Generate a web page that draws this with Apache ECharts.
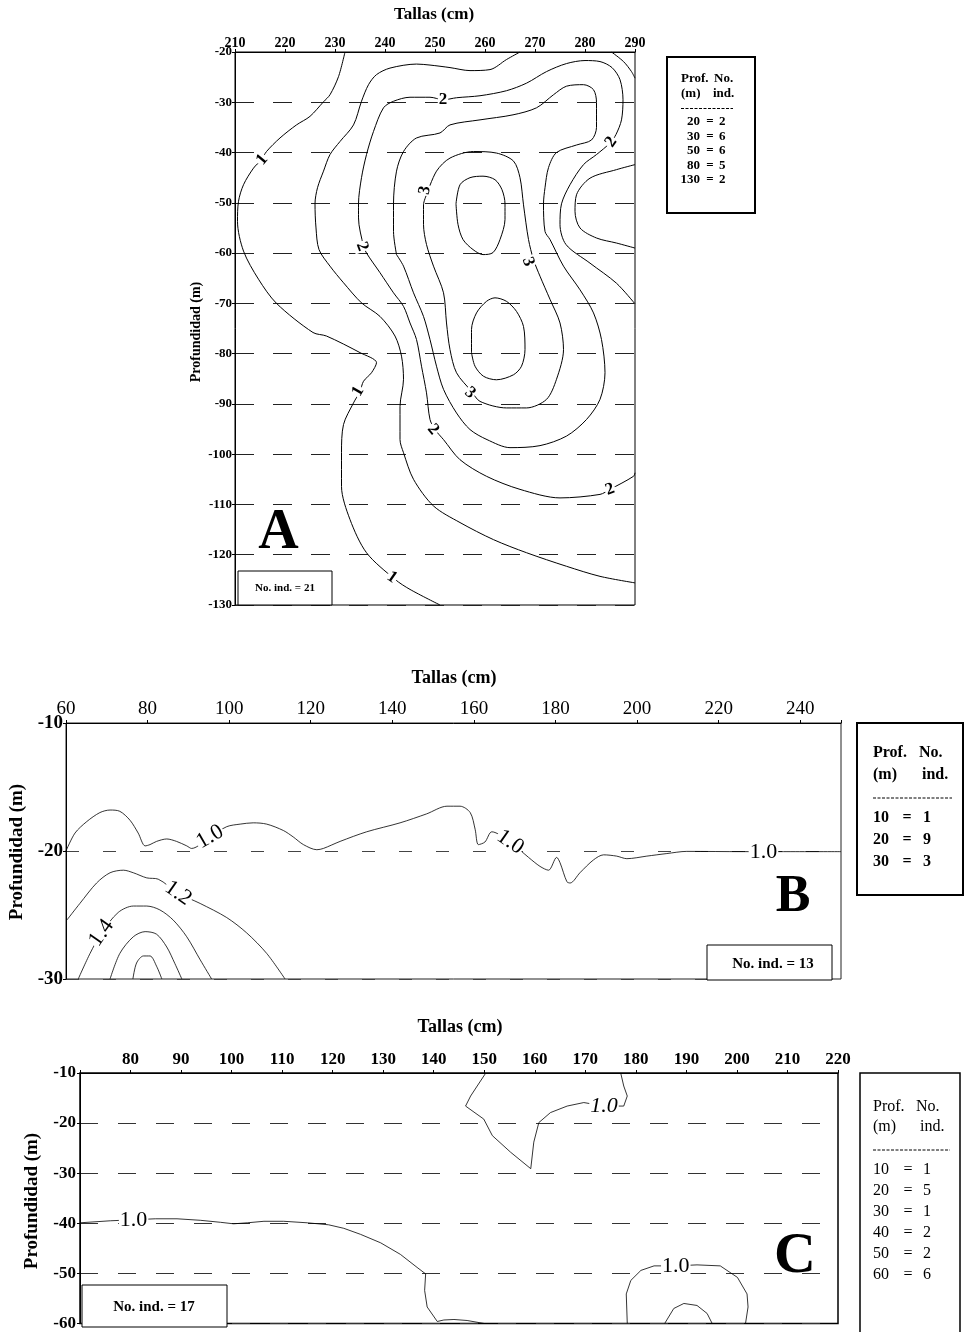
<!DOCTYPE html>
<html><head><meta charset="utf-8">
<script src="https://cdn.jsdelivr.net/npm/echarts@6/dist/echarts.min.js"></script>
<style>html,body{margin:0;padding:0;background:#fff}#c{width:964px;height:1332px}</style>
</head><body><div id="c"></div>
<script>
const FONT = '"Liberation Serif","Times New Roman",serif';

// ---------- Panel A ----------
const A_xTicks = [210,220,230,240,250,260,270,280,290];
const A_yTicks = [-130,-120,-110,-100,-90,-80,-70,-60,-50,-40,-30,-20];
const A_c1 = [[232,-20],[230.7,-24.9],[229,-28.5],[227.7,-29.9],[225,-32.8],[222.3,-34.5],[219,-37.1],[216.3,-39.8],[215.3,-41.4],[213.7,-43.1],[211.7,-46.4],[210.7,-49.7],[210.5,-53.7],[211.7,-59.6],[214.7,-65.2],[218.3,-70],[225.6,-75.8],[228.3,-76.5],[235,-79.8],[238.3,-81.8],[237.3,-83.8],[235.7,-85.5],[235,-87.5],[233.7,-89.8],[231.7,-94.1],[231.3,-99.7],[231.3,-106.4],[233,-113],[236.3,-119.6],[242,-124.9],[245,-126.9],[251,-130]];
const A_c15corner = [[285.3,-20],[287.7,-21.9],[289.3,-23.9],[290,-25.2]];
const A_c15 = [[267,-20],[264.3,-21.5],[261,-23.5],[257,-23.7],[253,-23.1],[249,-22.6],[246.3,-22.4],[241,-23.2],[238.3,-24.5],[236.7,-26.5],[235.3,-29.8],[233.7,-34.5],[231,-37.8],[229,-40.4],[227.7,-43.7],[226.5,-47],[226,-50.2],[226.2,-55],[226.8,-59.3],[229,-62.6],[231.7,-65.9],[235.3,-69.9],[239,-72.6],[242,-76.5],[243.3,-80.5],[243.7,-85.1],[243,-90.5],[243,-97.1],[243.7,-99.7],[245.7,-105],[249.7,-110.3],[255,-113.6],[261.7,-117],[268.3,-119.6],[276.3,-122.3],[283,-124.3],[290,-125.6]];
const A_c15valley = [[290,-42.4],[286.3,-43.4],[281,-45.1],[278.3,-48.4],[278,-51.7],[279,-55],[282.3,-57],[286.3,-58],[290,-59]];
const A_c2 = [[290,-70.1],[286.3,-66],[281,-62],[276.2,-58.3],[275,-54.3],[275.3,-50.2],[277,-46.4],[279.7,-42.4],[282.3,-40.4],[285,-38.1],[286.2,-36.4],[287.3,-33.5],[287.6,-29.5],[287,-25.5],[285.4,-23.1],[283,-21.9],[280,-21.7],[276.3,-22.3],[272.3,-23.9],[268.3,-26.2],[264.3,-27.7],[259,-28.7],[254.3,-29.1],[251.7,-29.5],[249,-29],[245,-29],[241.7,-29.8],[239.7,-31.1],[237.7,-35.8],[236.3,-40.4],[235.3,-45],[234.7,-50.2],[234.7,-53],[235.7,-58.6],[236.3,-60],[239,-63.9],[241.7,-67.9],[243.7,-70.6],[245,-73.9],[246.3,-77.2],[247.3,-82.5],[248.3,-87.8],[249,-93.1],[250,-95.1],[251.7,-97.1],[255,-101.1],[260.3,-104.4],[267,-107],[275,-108.7],[283,-108],[285,-107],[289.7,-104.4],[290,-103.7]];
const A_c25 = [[242.3,-60.3],[241.7,-55.7],[241.7,-50.2],[242.3,-43.7],[243.7,-39.8],[246.3,-37.1],[251,-36.1],[253,-34.5],[259,-33.5],[265.6,-32.5],[270.3,-31.1],[273.7,-28.5],[276.3,-26.8],[279.7,-26.5],[281.7,-27.5],[282.3,-30],[282.3,-35],[281.3,-37.5],[278.3,-38.5],[274.3,-40],[272.7,-43],[272,-47],[271.7,-50.2],[272,-55.7],[273,-57.3],[275.7,-62.6],[279,-67.3],[281.7,-71.9],[283.3,-77.2],[284,-83.8],[283,-89.1],[280.3,-93.1],[276.3,-96.4],[271,-98.3],[265,-98.7],[260.4,-97.1],[257,-95.1],[254.3,-91.8],[251.7,-87.1],[250.3,-82.5],[249,-77.2],[247.7,-72.6],[245.7,-67.9],[243.7,-62.6],[242.3,-60.3]];
const A_c3 = [[248.3,-48.4],[247.7,-50.4],[247.7,-54.3],[248.3,-58.3],[249.7,-62.6],[251.7,-67.9],[252.3,-73.9],[253,-79.2],[254.3,-83.8],[257.3,-87.5],[259,-89.5],[264.3,-90.8],[268.3,-90.8],[272.3,-89.1],[274.3,-85.1],[275.7,-79.2],[275,-73.9],[273,-69.2],[271,-64.6],[269.7,-61.3],[268.7,-57.3],[267.7,-50.4],[267,-45],[265.7,-41.7],[262.3,-40.1],[257.7,-39.8],[253,-41.1],[250.3,-43.7],[248.3,-48.4]];
const A_c35top = [[254.2,-50.2],[255,-46.4],[257,-45],[259.6,-44.7],[262,-45.4],[263.4,-47.4],[264,-50.2],[264,-53.3],[263,-57.3],[261.6,-59.9],[259.6,-60.3],[257.6,-59.3],[255.6,-57.3],[254.6,-54.3],[254.2,-50.2]];
const A_c35bot = [[257.3,-79.8],[257.3,-75.2],[258.3,-71.9],[260.3,-69.6],[262,-68.9],[264.3,-69.6],[266.3,-71.6],[267.7,-74.6],[268,-79.2],[267.3,-82.5],[265.7,-84.2],[262.3,-85.2],[259.7,-84.5],[258,-82.5],[257.3,-79.8]];
const A_labels = [[215.4,-41.4,'1'],[234.6,-87.5,'1'],[241.4,-124.5,'1'],[251.6,-29.5,'2'],[235.4,-58.7,'2'],[249.6,-95.1,'2'],[285,-107,'2'],[285.2,-37.9,'2'],[248,-47.5,'3'],[268.6,-61.7,'3'],[257,-87.8,'3']];
const A_depth = ['20','30','50','80','130'];
const A_count = ['2','6','6','5','2'];

// ---------- Panel B ----------
const B_xTicks = [60,80,100,120,140,160,180,200,220,240];
const B_yTicks = [-30,-20,-10];
const B_c10 = [[60,-20],[62.2,-18.6],[65.1,-17.7],[68.3,-17.0],[70.8,-16.8],[73.2,-16.9],[75.7,-17.6],[77.7,-18.6],[79.4,-19.6],[80.6,-19.5],[82.2,-19.25],[84.7,-19.06],[87.1,-19.25],[89.6,-19.6],[90.8,-19.8],[95.3,-18.9],[99.4,-18.1],[102.7,-17.9],[105.9,-17.8],[109.2,-17.9],[113.3,-18.4],[115.7,-18.9],[118.2,-19.5],[121.5,-19.9],[123.1,-19.8],[127.2,-19.25],[133.7,-18.5],[141.9,-17.8],[148.4,-17.1],[153.4,-16.5],[156.6,-16.5],[159.1,-17.0],[160.3,-18.3],[161.1,-19.5],[162.7,-19.3],[164.4,-18.5],[168.9,-19.3],[173.4,-20.5],[176.2,-21.2],[178.3,-21.5],[180.3,-20.5],[181.1,-20.9],[182.8,-22.4],[183.6,-22.5],[186,-21.7],[189.3,-20.7],[191.8,-20.3],[195,-20.4],[197.5,-20.6],[202.4,-20.4],[207.3,-20.2],[212.2,-20.03],[226.1,-20.05],[231,-20.05],[235.9,-20.05],[250,-20.05]];
const B_c12 = [[60.2,-25.4],[63.4,-24.1],[67.5,-22.5],[70.8,-21.7],[74.1,-21.5],[76.5,-21.7],[79.8,-22.1],[82.6,-22.2],[87.5,-23.3],[92.9,-24.1],[99.4,-25.2],[104.3,-26.4],[109.2,-28],[113.7,-30]];
const B_c14 = [[63,-30],[65.9,-28],[68.7,-26.4],[72.8,-24.8],[76.5,-24.3],[79.8,-24.3],[83,-24.6],[86.3,-25.4],[89.6,-26.7],[92.9,-28.5],[95.7,-30]];
const B_c16 = [[70.8,-30],[73.2,-28],[76.5,-26.7],[79.4,-26.3],[82.2,-26.5],[84.7,-27.5],[86.7,-28.8],[88.4,-30]];
const B_c18 = [[76.4,-30],[77.3,-28.75],[79,-28.2],[80.6,-28.2],[82.2,-29],[83.5,-30]];
const B_labels = [[95.3,-18.9,'1.0'],[87.5,-23.3,'1.2'],[68.7,-26.4,'1.4'],[168.9,-19.3,'1.0'],[231,-20.1,'1.0']];
const B_depth = ['10','20','30'];
const B_count = ['1','9','3'];

// ---------- Panel C ----------
const C_xTicks = [80,90,100,110,120,130,140,150,160,170,180,190,200,210,220];
const C_yTicks = [-60,-50,-40,-30,-20,-10];
const C_c10left = [[70,-39.9],[76,-39.5],[80.6,-39.3],[84.9,-39.1],[89.2,-39.1],[93.8,-39.4],[97.8,-39.8],[100.4,-40.1],[103.1,-39.9],[106.4,-39.6],[110.3,-39.6],[115,-39.9],[119.2,-40.3],[122.2,-41],[125.5,-42.2],[129.5,-43.9],[133.4,-46.2],[136.7,-48.8],[138.4,-50.1],[138.2,-53.4],[138.7,-56.7],[140.7,-59.6],[142,-59.3],[144,-59.2],[146.6,-59.4],[150,-60]];
const C_c10top = [[150.3,-10],[148.6,-12.6],[147.3,-14.6],[146.3,-16.6],[149.9,-19.2],[151.6,-22.5],[155.2,-25.8],[159.2,-29.1],[159.8,-23.8],[160.8,-19.9],[163.1,-17.9],[166.4,-16.6],[169.7,-15.9],[173.7,-16.6],[177.6,-16.6],[178.3,-14.6],[177.6,-12.6],[177,-10]];
const C_c10right = [[178.3,-60],[178.1,-54.1],[179,-51.4],[181,-49.4],[183.6,-48.5],[187.9,-48.5],[192.1,-48.3],[196.7,-48.5],[200.1,-50.8],[202,-54.1],[202.2,-56.7],[201.7,-60]];
const C_c12 = [[185.7,-60],[187.5,-57],[189.5,-56],[192.1,-56.4],[194.1,-58],[195.1,-60]];
const C_labels = [[80.6,-39.3,'1.0'],[173.7,-16.6,'1.0'],[187.9,-48.5,'1.0']];
const C_depth = ['10','20','30','40','50','60'];
const C_count = ['1','5','1','2','2','6'];

// ---------- styling (not data) ----------
const A_labelAngles = [50,60,-35,0,-70,-50,20,55,80,-70,-40];
const B_labelAngles = [30,-35,55,-35,0];
const C_labelAngles = [0,0,0];
const C_labelItalic = [false,true,false];

function lineS(gi, data, smooth, width){
  return {type:'line', xAxisIndex:gi, yAxisIndex:gi, data, symbol:'none', showSymbol:false, smooth,
    lineStyle:{color:'#000', width:width||1}, silent:true, animation:false, z:3, emphasis:{disabled:true}};
}
// contour labels drawn as text at data coordinates through the axes (custom series)
function labelS(gi, labels, angles, fontFn){
  return {type:'custom', xAxisIndex:gi, yAxisIndex:gi, silent:true, animation:false, z:10, clip:false,
    data: labels.map(l=>[l[0],l[1]]),
    renderItem:(params, api)=>{
      const p = api.coord([api.value(0), api.value(1)]);
      const i = params.dataIndex;
      return {type:'text', x:p[0], y:p[1], rotation:(angles[i]||0)*Math.PI/180,
        style:{text:labels[i][2], font:fontFn(i), fill:'#000', backgroundColor:'#fff', padding:[0,1],
          align:'center', verticalAlign:'middle', textAlign:'center', textVerticalAlign:'middle'}};
    }};
}
function xAx(gi, ticks, size, weight, margin, pad){
  return {gridIndex:gi, type:'value', position:'top', min:ticks[0]-(pad?pad[0]:0), max:ticks[ticks.length-1]+(pad?pad[1]:0),
    interval:ticks[1]-ticks[0],
    axisLine:{show:true, onZero:false, lineStyle:{color:'#000', width:1}},
    axisTick:{show:true, length:3, lineStyle:{color:'#000'}},
    axisLabel:{fontFamily:FONT, fontSize:size, fontWeight:weight, color:'#000', margin,
      formatter:v=>ticks.indexOf(v)>=0?String(v):''},
    splitLine:{show:false}};
}
function yAx(gi, ticks, size, margin, dash, dashColor){
  return {gridIndex:gi, type:'value', min:ticks[0], max:ticks[ticks.length-1], interval:ticks[1]-ticks[0],
    axisLine:{show:true, onZero:false, lineStyle:{color:'#000', width:1}},
    axisTick:{show:true, length:3, lineStyle:{color:'#000'}},
    axisLabel:{fontFamily:FONT, fontSize:size, fontWeight:'bold', color:'#000', margin},
    splitLine:{show:true, lineStyle:{type:dash, color:dashColor, width:1}}};
}
function T(x,y,t,size,weight,align,extra){
  return Object.assign({type:'text', x, y, z:100, style:{text:t, font:`${weight} ${size}px ${FONT}`, fill:'#000',
    align:align||'left', textAlign:align||'left', verticalAlign:'middle', textVerticalAlign:'middle'}}, extra||{});
}
function R(x,y,w,h,lw){
  return {type:'rect', z:99, shape:{x,y,width:w,height:h}, style:{fill:'#fff', stroke:'#000', lineWidth:lw}};
}
function dashLine(x1,x2,y){
  return {type:'line', z:100, shape:{x1,y1:y,x2,y2:y}, style:{stroke:'#000', lineWidth:1, lineDash:[3,1.5]}};
}

const graphics = [];
// Panel A texts
graphics.push(T(434,15,'Tallas (cm)',17,'bold','center'));
graphics.push(T(196,332,'Profundidad (m)',14,'bold','center',{rotation:Math.PI/2}));
graphics.push(R(667,57,88,156,2));
graphics.push(T(681,79,'Prof.',13,'bold'),T(714,79,'No.',13,'bold'),T(681,93.5,'(m)',13,'bold'),T(713,93.5,'ind.',13,'bold'));
graphics.push(dashLine(681,733,108.5));
A_depth.forEach((d,i)=>{const y=121.7+i*14.6; graphics.push(T(700,y,d,13,'bold','right'),T(710,y,'=',13,'bold','center'),T(719,y,A_count[i],13,'bold'));});
graphics.push(T(278.5,534,'A',56,'bold','center'));
graphics.push(R(238,571,94,34,1), T(285,588,'No. ind. = 21',11,'bold','center'));
// Panel B texts
graphics.push(T(454,678,'Tallas (cm)',18,'bold','center'));
graphics.push(T(17,852,'Profundidad (m)',19,'bold','center',{rotation:Math.PI/2}));
graphics.push(T(793,898,'B',52,'bold','center'));
graphics.push(R(707,945,125,35,1), T(773,964,'No. ind. = 13',15,'bold','center'));
graphics.push(R(857,723,106,172,2));
graphics.push(T(873,753,'Prof.',16,'bold'),T(919,753,'No.',16,'bold'),T(873,775,'(m)',16,'bold'),T(922,775,'ind.',16,'bold'));
graphics.push(dashLine(873,952,798));
B_depth.forEach((d,i)=>{const y=818+i*21.7; graphics.push(T(873,y,d,16,'bold'),T(907,y,'=',16,'bold','center'),T(927,y,B_count[i],16,'bold','center'));});
// Panel C texts
graphics.push(T(460,1027,'Tallas (cm)',18,'bold','center'));
graphics.push(T(32,1201,'Profundidad (m)',19,'bold','center',{rotation:Math.PI/2}));
graphics.push(T(795,1257,'C',58,'bold','center'));
graphics.push(R(82,1285,145,42,1), T(154,1307,'No. ind. = 17',15,'bold','center'));
graphics.push(R(860,1073,100,262,1.5));
graphics.push(T(873,1107,'Prof.',16,'normal'),T(916,1107,'No.',16,'normal'),T(873,1127,'(m)',16,'normal'),T(920,1127,'ind.',16,'normal'));
graphics.push(dashLine(873,950,1150));
C_depth.forEach((d,i)=>{const y=1169.3+i*21.1; graphics.push(T(873,y,d,16,'normal'),T(908,y,'=',16,'normal','center'),T(927,y,C_count[i],16,'normal','center'));});

const option = {
  backgroundColor:'#fff',
  animation:false,
  grid:[
    {left:235, top:52, width:400, height:553, show:true, borderColor:'#000', borderWidth:1},
    {left:66, top:723, width:775, height:256, show:true, borderColor:'#222', borderWidth:1},
    {left:80, top:1073, width:758, height:254, show:true, borderColor:'#000', borderWidth:1.5}
  ],
  xAxis:[
    xAx(0, A_xTicks, 14, 'bold', 2),
    xAx(1, B_xTicks, 19, 'normal', 4, [0,10]),
    xAx(2, C_xTicks, 17, 'bold', 5, [10,0])
  ],
  yAxis:[
    yAx(0, A_yTicks, 13, 3, [19,19], '#222'),
    yAx(1, B_yTicks, 19, 3, [13,24], '#444'),
    yAx(2, C_yTicks, 17, 4, [18,20], '#333')
  ],
  series:[
    lineS(0,A_c1,0.3), lineS(0,A_c15corner,0.3), lineS(0,A_c15,0.3), lineS(0,A_c15valley,0.3),
    lineS(0,A_c2,0.3), lineS(0,A_c25,0.3), lineS(0,A_c3,0.3), lineS(0,A_c35top,0.3), lineS(0,A_c35bot,0.3),
    labelS(0, A_labels, A_labelAngles, ()=>`bold 17px ${FONT}`),
    lineS(1,B_c10,0.3,0.8), lineS(1,B_c12,0.3,0.8), lineS(1,B_c14,0.3,0.8), lineS(1,B_c16,0.3,0.8), lineS(1,B_c18,0.3,0.8),
    labelS(1, B_labels, B_labelAngles, ()=>`normal 22px ${FONT}`),
    lineS(2,C_c10left,false,0.8), lineS(2,C_c10top,false,0.8), lineS(2,C_c10right,false,0.8), lineS(2,C_c12,false,0.8),
    labelS(2, C_labels, C_labelAngles, i=>`${C_labelItalic[i]?'italic ':''}normal 22px ${FONT}`)
  ],
  graphic: graphics
};
const chart = echarts.init(document.getElementById('c'), null, {renderer:'canvas', width:964, height:1332});
chart.setOption(option);
</script>
</body></html>
